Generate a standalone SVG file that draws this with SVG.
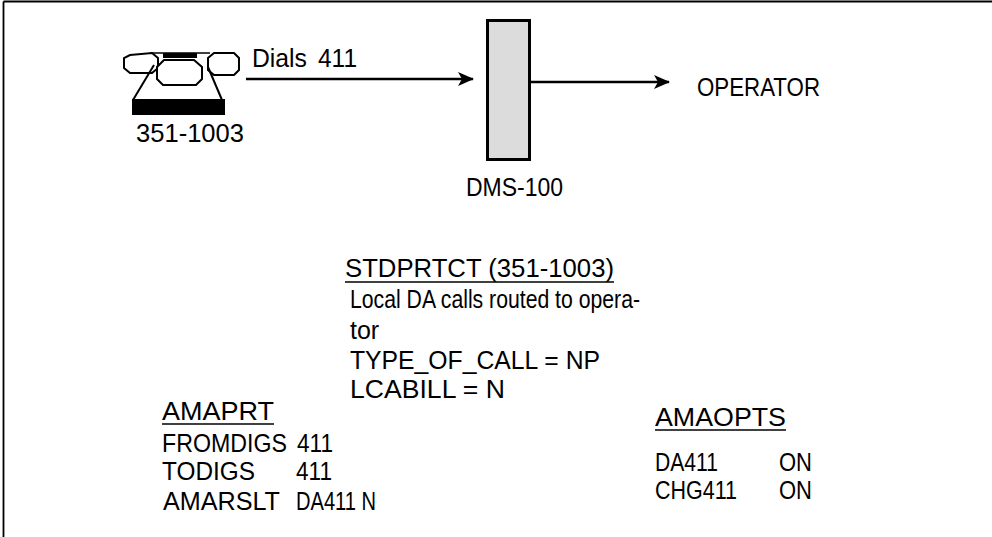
<svg xmlns="http://www.w3.org/2000/svg" width="992" height="537" viewBox="0 0 992 537">
<defs>
<style>
text{font-family:"Liberation Sans",Arial,sans-serif;font-size:25px;fill:#000}
.ln{stroke:#000;stroke-width:2.5;fill:none}
.ul{stroke:#000;stroke-width:1.6}
.ph{stroke:#000;stroke-width:2;fill:#fff}
</style>
<marker id="ah" viewBox="0 0 16 14" refX="15" refY="7" markerWidth="16" markerHeight="14" markerUnits="userSpaceOnUse" orient="auto">
<path d="M0,0 L16,7 L0,14 L4,7 Z" fill="#000"/>
</marker>
</defs>
<rect width="992" height="537" fill="#fff"/>
<g id="frame">
<line x1="3.5" y1="1.5" x2="992" y2="1.5" stroke="#000" stroke-width="1.8"/>
<line x1="3.5" y1="1.5" x2="3.5" y2="537" stroke="#000" stroke-width="1.8"/>
</g>
<g id="phone">
<path d="M150,53 L210,53" stroke="#000" stroke-width="1.5"/>
<rect x="163" y="53" width="34" height="5" fill="#000"/>
<polygon class="ph" points="130,55 152,53 158,58 158,68 152,73 130,73 124,68 124,58"/>
<polygon class="ph" points="214,53 234,53 239,58 239,70 234,75 214,75 208,70 208,58"/>
<line x1="154" y1="65" x2="133" y2="100" stroke="#000" stroke-width="2"/>
<line x1="208" y1="67" x2="222" y2="100" stroke="#000" stroke-width="2"/>
<polygon class="ph" points="164,60 194,60 202,67 202,79 196,85 163,85 157,79 157,67"/>
<rect x="132" y="99" width="93" height="16" fill="#000"/>
<text x="136" y="142" textLength="108" lengthAdjust="spacingAndGlyphs">351-1003</text>
</g>
<g id="dms">
<rect x="487.5" y="20.5" width="42" height="139" fill="#dcdcdc" stroke="#000" stroke-width="3"/>
<text x="466" y="196" textLength="97" lengthAdjust="spacingAndGlyphs">DMS-100</text>
</g>
<g id="operator">
<text x="697" y="96" textLength="123" lengthAdjust="spacingAndGlyphs">OPERATOR</text>
</g>
<g id="connectors">
<line class="ln" x1="246" y1="79" x2="473" y2="79" marker-end="url(#ah)"/>
<line class="ln" x1="531" y1="82" x2="669" y2="82" marker-end="url(#ah)"/>
<text x="252" y="67" textLength="55" lengthAdjust="spacingAndGlyphs">Dials</text>
<text x="318" y="67" textLength="39" lengthAdjust="spacingAndGlyphs">411</text>
</g>
<g id="stdprtct">
<text x="345" y="277" textLength="269" lengthAdjust="spacingAndGlyphs">STDPRTCT (351-1003)</text>
<line class="ul" x1="345" y1="282" x2="614" y2="282"/>
<text x="350" y="308" textLength="290" lengthAdjust="spacingAndGlyphs">Local DA calls routed to opera-</text>
<text x="350" y="339">tor</text>
<text x="350" y="369" textLength="250" lengthAdjust="spacingAndGlyphs">TYPE_OF_CALL = NP</text>
<text x="350" y="398" textLength="155" lengthAdjust="spacingAndGlyphs">LCABILL = N</text>
</g>
<g id="amaprt">
<text x="162" y="420" textLength="112" lengthAdjust="spacingAndGlyphs">AMAPRT</text>
<line class="ul" x1="162" y1="424" x2="274" y2="424"/>
<text x="162" y="452" textLength="125" lengthAdjust="spacingAndGlyphs">FROMDIGS</text><text x="297" y="452" textLength="36" lengthAdjust="spacingAndGlyphs">411</text>
<text x="162" y="480" textLength="93" lengthAdjust="spacingAndGlyphs">TODIGS</text><text x="296" y="480" textLength="36" lengthAdjust="spacingAndGlyphs">411</text>
<text x="163" y="510" textLength="117" lengthAdjust="spacingAndGlyphs">AMARSLT</text><text x="296" y="510" textLength="80" lengthAdjust="spacingAndGlyphs">DA411 N</text>
</g>
<g id="amaopts">
<text x="655" y="426" textLength="131" lengthAdjust="spacingAndGlyphs">AMAOPTS</text>
<line class="ul" x1="655" y1="430" x2="786" y2="430"/>
<text x="655" y="471" textLength="63" lengthAdjust="spacingAndGlyphs">DA411</text><text x="779" y="471" textLength="33" lengthAdjust="spacingAndGlyphs">ON</text>
<text x="655" y="499" textLength="82" lengthAdjust="spacingAndGlyphs">CHG411</text><text x="779" y="499" textLength="33" lengthAdjust="spacingAndGlyphs">ON</text>
</g>
</svg>
